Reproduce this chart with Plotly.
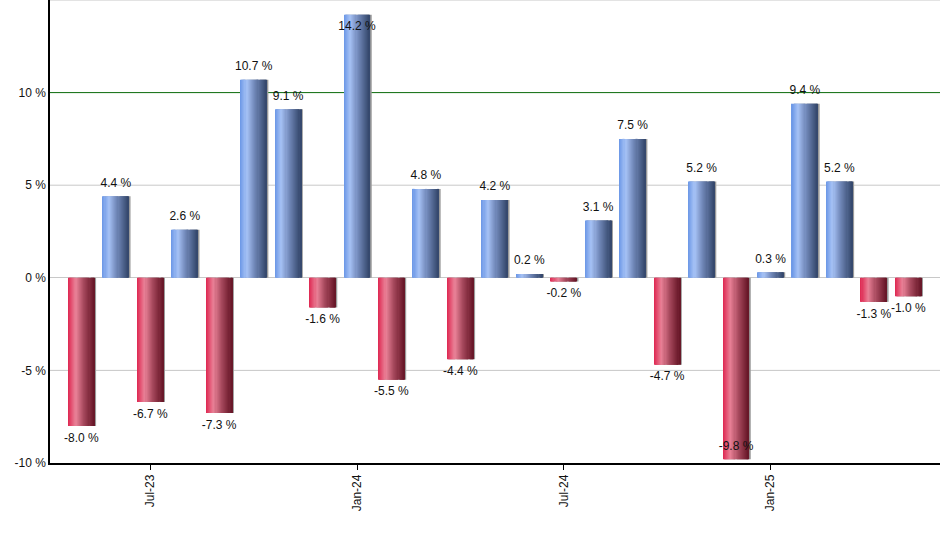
import plotly.graph_objects as go
from plotly.colors import find_intermediate_color, hex_to_rgb

months = ['May-23', 'Jun-23', 'Jul-23', 'Aug-23', 'Sep-23', 'Oct-23', 'Nov-23', 'Dec-23',
          'Jan-24', 'Feb-24', 'Mar-24', 'Apr-24', 'May-24', 'Jun-24', 'Jul-24', 'Aug-24',
          'Sep-24', 'Oct-24', 'Nov-24', 'Dec-24', 'Jan-25', 'Feb-25', 'Mar-25', 'Apr-25',
          'May-25']
returns = [-8.0, 4.4, -6.7, 2.6, -7.3, 10.7, 9.1, -1.6, 14.2, -5.5, 4.8, -4.4, 4.2,
           0.2, -0.2, 3.1, 7.5, -4.7, 5.2, -9.8, 0.3, 9.4, 5.2, -1.3, -1.0]
tick_months = ['Jul-23', 'Jan-24', 'Jul-24', 'Jan-25']
y_ticks = [-10, -5, 0, 5, 10]
grid_lines = [-5, 5, 15]
highlight_line = 10

# horizontal gradient stops for the "cylinder" look
blue_stops = [(0.0, '#6a96e6'), (0.25, '#a6c2f5'), (0.55, '#7289ba'), (1.0, '#33466a')]
red_stops = [(0.0, '#de2650'), (0.3, '#e98096'), (0.6, '#a84a5e'), (1.0, '#661526')]


def grad_color(stops, t):
  for (p0, c0), (p1, c1) in zip(stops, stops[1:]):
    if t <= p1:
      f = (t - p0) / (p1 - p0)
      r, g, b = find_intermediate_color(hex_to_rgb(c0), hex_to_rgb(c1), f)
      return f'rgb({r:.0f},{g:.0f},{b:.0f})'
  return stops[-1][1]


bar_w = 0.755
n_strips = 24
strip_w = bar_w / n_strips

fig = go.Figure()

# soft grey shadow on the right edge
fig.add_trace(go.Bar(
  x=months, y=returns, width=bar_w, offset=-bar_w / 2 + 0.05,
  marker=dict(color='#9a9a9a', line=dict(width=0)),
  hoverinfo='skip', showlegend=False
))

for k in range(n_strips):
  t = (k + 0.5) / n_strips
  colors = [grad_color(blue_stops if v >= 0 else red_stops, t) for v in returns]
  fig.add_trace(go.Bar(
    x=months, y=returns, width=strip_w * 1.08, offset=-bar_w / 2 + k * strip_w,
    marker=dict(color=colors, line=dict(width=0)),
    hoverinfo='skip', showlegend=False
  ))

positions = []
for v in returns:
  if v > 13:
    positions.append('bottom center')
  elif v >= 0:
    positions.append('top center')
  elif v < -9:
    positions.append('top center')
  else:
    positions.append('bottom center')

# invisible markers just to push the labels a few px off the bar ends
fig.add_trace(go.Scatter(
  x=months, y=returns, mode='markers+text',
  marker=dict(size=9, opacity=0),
  text=[f'{v:.1f} %' for v in returns],
  textposition=positions,
  textfont=dict(family='Liberation Sans, Arial', size=12, color='#111111'),
  cliponaxis=False, hoverinfo='skip', showlegend=False
))

for g in grid_lines:
  fig.add_hline(y=g, line=dict(color='#c8c8c8', width=1), layer='below')
fig.add_hline(y=highlight_line, line=dict(color='#0a6a0a', width=1), layer='below')

fig.update_layout(
  width=940, height=550,
  margin=dict(l=50, r=0, t=0, b=87),
  paper_bgcolor='white', plot_bgcolor='white',
  barmode='overlay',
  font=dict(family='Liberation Sans, Arial', size=12, color='#111111'),
  xaxis=dict(
    type='category', range=[-0.91, 24.92],
    tickvals=tick_months, ticktext=tick_months, tickangle=-90,
    ticks='outside', ticklen=5, tickcolor='black',
    showline=True, linecolor='black', linewidth=1.5,
    showgrid=False, zeroline=False
  ),
  yaxis=dict(
    range=[-10, 15], tickvals=y_ticks, ticktext=[f'{v} %' for v in y_ticks],
    ticks='', showline=True, linecolor='black', linewidth=1.5,
    showgrid=False,
    zeroline=True, zerolinecolor='#c8c8c8', zerolinewidth=1
  )
)

# page body margin would push the chart 8px down/right
fig.write_html('out.html', config={'displayModeBar': False},
               post_script="document.body.style.margin='0';")
